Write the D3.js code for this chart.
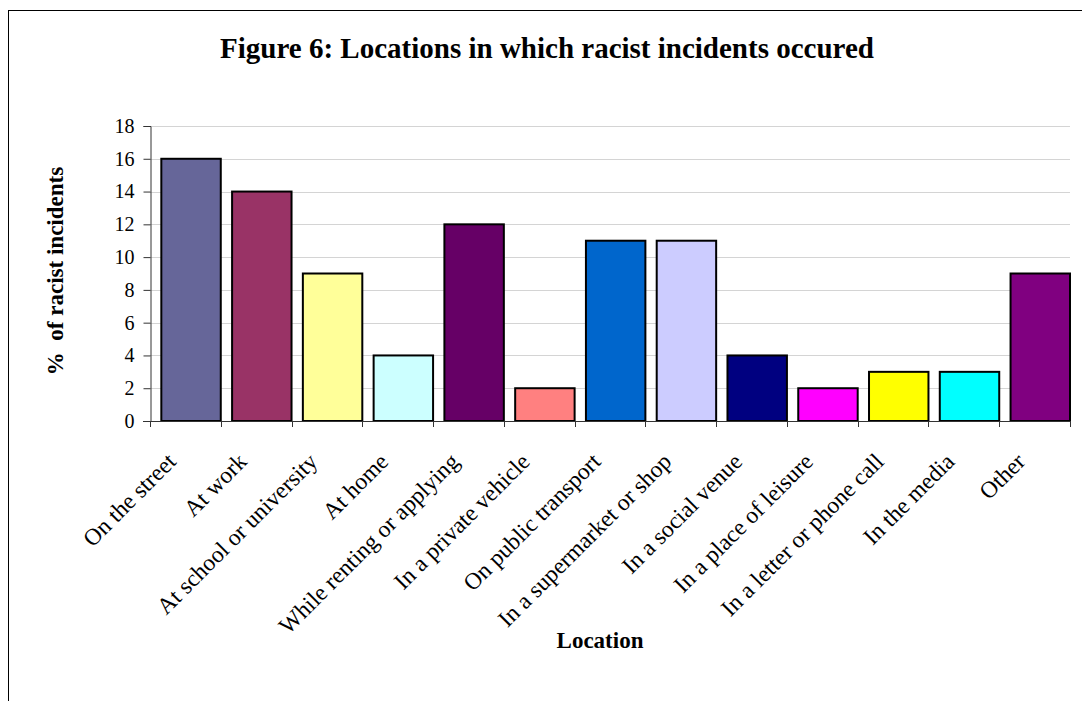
<!DOCTYPE html>
<html>
<head>
<meta charset="utf-8">
<script src="https://cdn.jsdelivr.net/npm/d3@7"></script>
<style>
  html, body { margin: 0; padding: 0; background: #fff; overflow: hidden; }
  svg { display: block; }
  text { font-family: "Liberation Serif", "Times New Roman", serif; fill: #000; }
</style>
</head>
<body>
<svg id="chart" width="1082" height="701"></svg>
<script>
// Locations and share of incidents (%)
const categories = [
  "On the street", "At work", "At school or university", "At home",
  "While renting or applying", "In a private vehicle", "On public transport",
  "In a supermarket or shop", "In a social venue", "In a place of leisure",
  "In a letter or phone call", "In the media", "Other"
];
const values = [16, 14, 9, 4, 12, 2, 11, 11, 4, 2, 3, 3, 9];
const colors = [
  "#666699", "#993366", "#FFFF99", "#CCFFFF", "#660066", "#FF8080", "#0066CC",
  "#CCCCFF", "#000080", "#FF00FF", "#FFFF00", "#00FFFF", "#800080"
];
const yTicks = [0, 2, 4, 6, 8, 10, 12, 14, 16, 18];

const title = "Figure 6: Locations in which racist incidents occured";
const yTitle = "%\u00a0 of racist incidents";
const xTitle = "Location";

const svg = d3.select("#chart");

// chart frame (left and top edges fall inside the page)
svg.append("line").attr("x1", 8.5).attr("x2", 8.5).attr("y1", 10).attr("y2", 701)
  .attr("stroke", "#000");
svg.append("line").attr("x1", 8).attr("x2", 1082).attr("y1", 10.5).attr("y2", 10.5)
  .attr("stroke", "#000");

const plot = { left: 150, right: 1070, top: 126, bottom: 421 };

const x = d3.scaleBand().domain(categories).range([plot.left, plot.right]).padding(0);
const y = d3.scaleLinear().domain([0, 18]).range([plot.bottom, plot.top]);

// gridlines
svg.append("g")
  .selectAll("line")
  .data(yTicks.filter(d => d > 0))
  .join("line")
  .attr("x1", plot.left).attr("x2", plot.right)
  .attr("y1", d => Math.round(y(d)) + 0.5).attr("y2", d => Math.round(y(d)) + 0.5)
  .attr("stroke", "#d4d4d4").attr("stroke-width", 1);

// bars
const barOffset = x.bandwidth() * 0.16;
svg.append("g")
  .selectAll("rect")
  .data(categories)
  .join("rect")
  .attr("x", d => x(d) + barOffset)
  .attr("y", (d, i) => y(values[i]))
  .attr("width", x.bandwidth() - barOffset)
  .attr("height", (d, i) => y(0) - y(values[i]))
  .attr("fill", (d, i) => colors[i])
  .attr("stroke", "#000").attr("stroke-width", 2);

// y axis
const yAxis = d3.axisLeft(y).tickValues(yTicks).tickSize(7).tickPadding(9).tickFormat(d3.format("d"));
const yg = svg.append("g").attr("transform", `translate(${plot.left + 0.5},0)`).call(yAxis);
yg.select(".domain").attr("stroke", "#333");
yg.selectAll(".tick line").attr("stroke", "#333");
yg.selectAll(".tick text")
  .style("font-family", '"Liberation Serif", "Times New Roman", serif')
  .style("font-size", "20px").attr("fill", "#000");

// x axis line and tick marks at band edges
const xg = svg.append("g");
xg.append("line")
  .attr("x1", plot.left - 7).attr("x2", plot.right)
  .attr("y1", plot.bottom + 0.5).attr("y2", plot.bottom + 0.5)
  .attr("stroke", "#333");
const edges = categories.map(c => x(c)).concat([plot.right]);
xg.selectAll("line.tk")
  .data(edges)
  .join("line").attr("class", "tk")
  .attr("x1", d => Math.round(d) + 0.5).attr("x2", d => Math.round(d) + 0.5)
  .attr("y1", plot.bottom).attr("y2", plot.bottom + 6)
  .attr("stroke", "#333");

// rotated category labels
svg.append("g")
  .selectAll("text")
  .data(categories)
  .join("text")
  .attr("transform", d => `translate(${x(d) + x.bandwidth() / 2 - 8},463) rotate(-45)`)
  .attr("text-anchor", "end")
  .style("font-size", "23.5px")
  .text(d => d);

// titles
svg.append("text")
  .attr("x", 547).attr("y", 58)
  .attr("text-anchor", "middle")
  .style("font-size", "29px").style("font-weight", "bold")
  .text(title);

svg.append("text")
  .attr("transform", "translate(63,271) rotate(-90)")
  .attr("text-anchor", "middle")
  .style("font-size", "23px").style("font-weight", "bold")
  .text(yTitle);

svg.append("text")
  .attr("x", 600).attr("y", 648)
  .attr("text-anchor", "middle")
  .style("font-size", "23px").style("font-weight", "bold")
  .text(xTitle);
</script>
</body>
</html>
